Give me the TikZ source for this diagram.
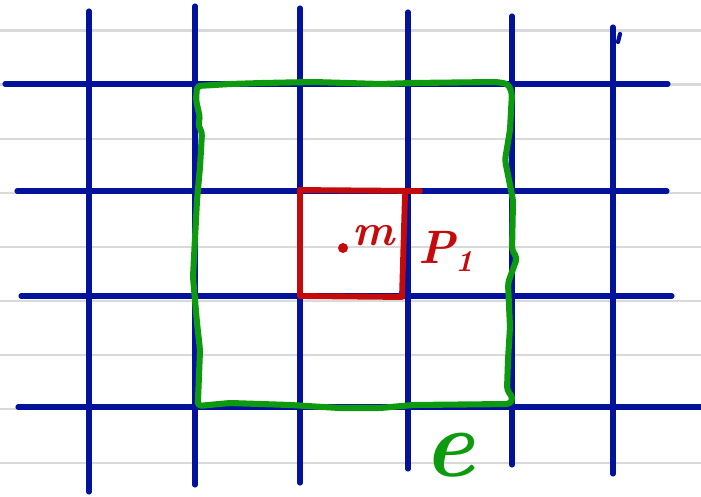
\documentclass[tikz,border=0pt]{standalone}
\usepackage{tikz}
\usetikzlibrary{positioning}
\definecolor{inkblue}{HTML}{03129A}
\definecolor{inkgreen}{HTML}{0E9A0E}
\definecolor{inkred}{HTML}{C40A0A}
\definecolor{rulegray}{HTML}{D9D9D9}

\begin{document}
\begin{tikzpicture}[x=0.03cm,y=-0.03cm,
 ruled/.style={draw=rulegray,line width=2pt},
 gridline/.style={draw=inkblue,line width=4.4pt,line cap=round},
 outerbox/.style={draw=inkgreen,line width=5.2pt,line cap=round,line join=round,rounded corners=3pt},
 innerbox/.style={draw=inkred,line width=5pt,line cap=round,line join=round},
 redtext/.style={text=inkred,inner sep=0pt},
 greentext/.style={text=inkgreen,inner sep=0pt}]
\useasboundingbox (0,0) rectangle (701,496);

% Paper: light ruled lines across the whole page.
\foreach \k in {0,...,8} \draw[ruled] (0,{30.5+54.1*\k}) -- (701,{30.5+54.1*\k});

% Blue hand-drawn grid (x / top / bottom, then y / left / right).
\foreach \x/\a/\b in {89/11/492,195/6/485,300/8/483,408/12/469,512/16/465,613/27/474} \draw[gridline] (\x,\a) -- (\x,\b);
\foreach \y/\a/\b in {84/5/668,191/17/667,296/21/672,407/18/701} \draw[gridline] (\a,\y) -- (\b,\y);
\draw[gridline,line width=3.6pt] (620,34) -- (618,42);

% Green outer square, wobbly like the pen stroke.
\draw[outerbox] (197,86) -- (230,84) -- (263,83) -- (313,82) -- (380,84) -- (413,83) -- (497,82) -- (508,84) -- (512,93)
  -- (510,130) -- (505,160) -- (513,200) -- (512,250) -- (517,258) -- (508,283) -- (510,327) -- (508,360) -- (507,390)
  -- (513,398) -- (510,404) -- (413,405) -- (380,408) -- (340,408) -- (290,405) -- (230,403) -- (198,406)
  -- (198,400) -- (200,350) -- (197,323) -- (193,277) -- (197,200) -- (200,167) -- (202,132) -- (198,125)
  -- (200,118) -- (196,100) -- cycle;
\node[greentext,font=\fontsize{82}{82}\selectfont\bfseries\itshape,anchor=base] (labe) at (449,476) {e};

% Red inner cell with its point and name.
\draw[innerbox] (300,190) -- (420,191);
\draw[innerbox] (300,190) -- (300,296) -- (402,297) -- (405,195);
\fill[inkred] (343,248) circle[radius=5];
\node[redtext,font=\fontsize{38}{38}\selectfont\bfseries\itshape,anchor=base west] (labm) at (352,245) {m};
\node[redtext,font=\fontsize{40}{40}\selectfont\bfseries\itshape,anchor=base west] (labp) at (418,263) {P{\fontsize{26}{26}\selectfont\raisebox{-7pt}{1}}};
\end{tikzpicture}
\end{document}
